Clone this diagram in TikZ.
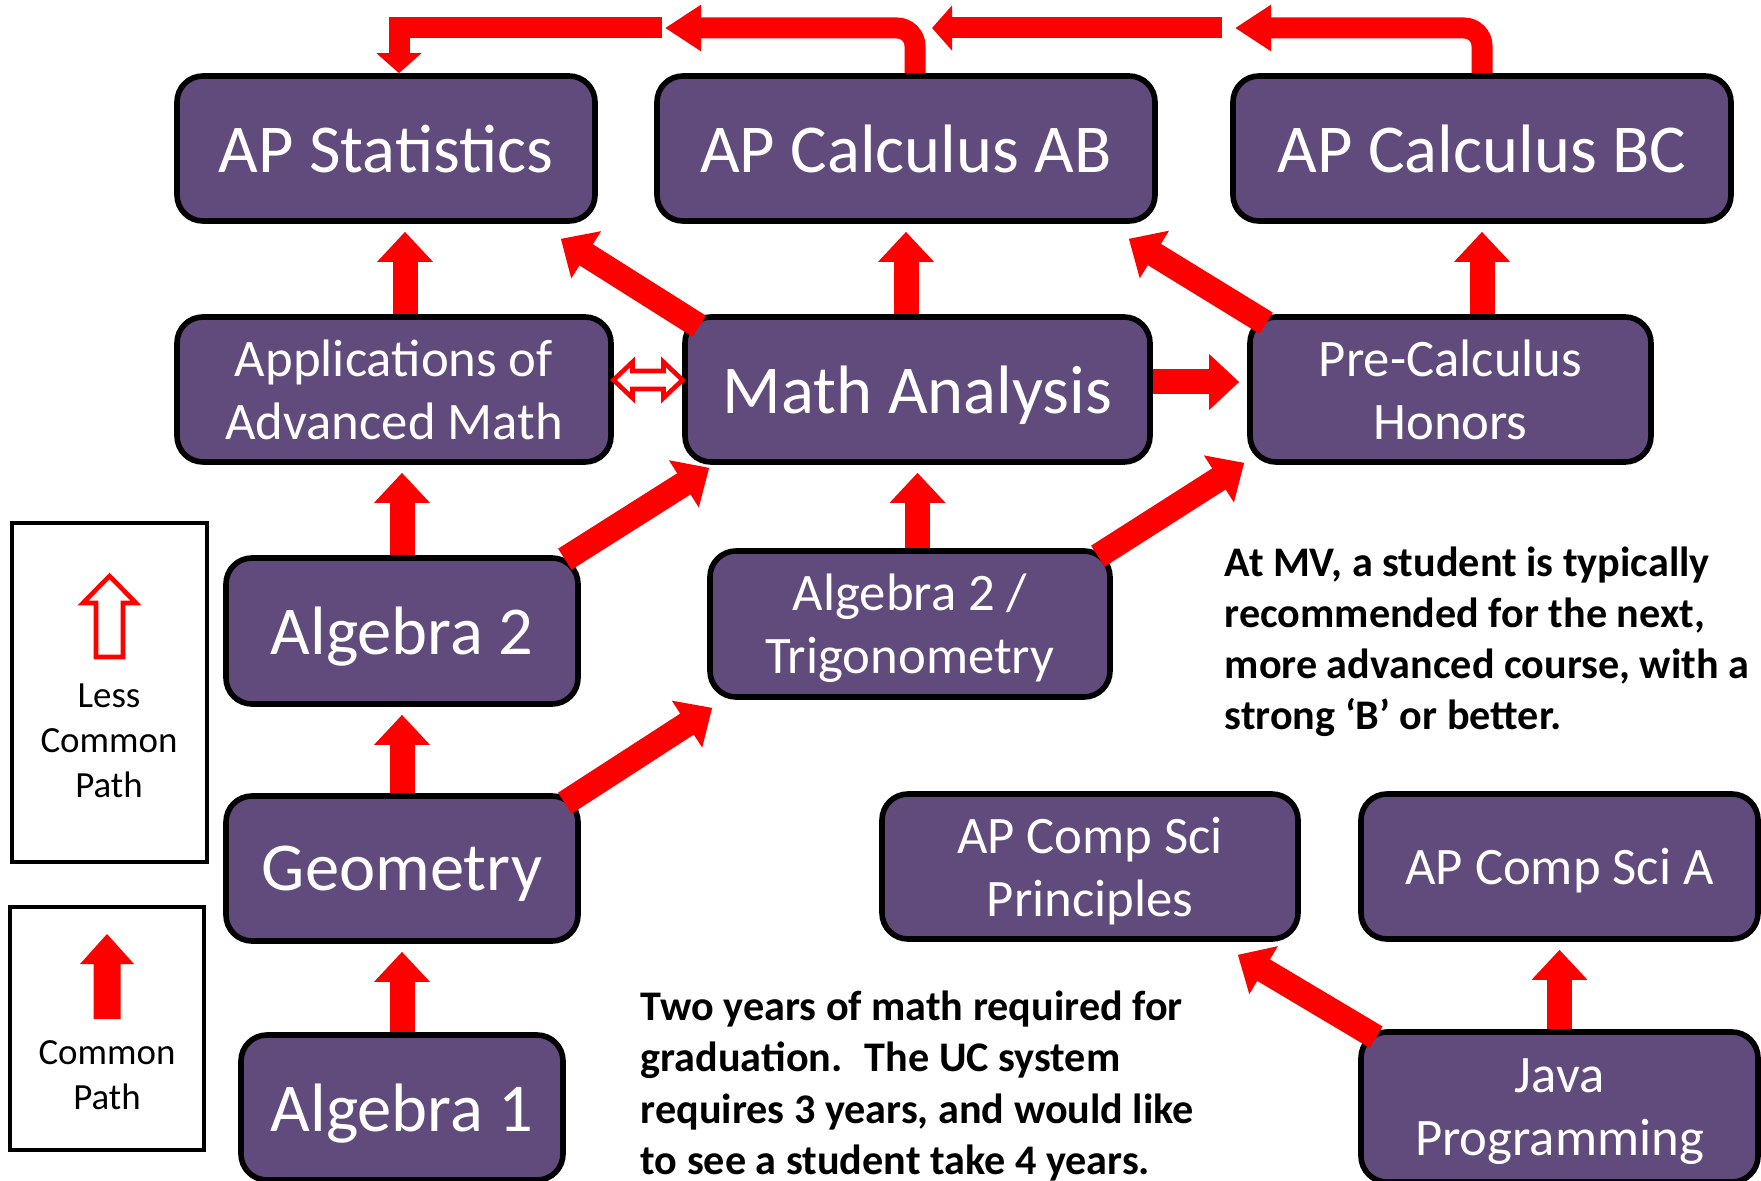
\documentclass[tikz,border=0pt]{standalone}
\usepackage{fontspec}
\setmainfont{Carlito}
\usetikzlibrary{arrows.meta,calc}
\definecolor{coursepurple}{RGB}{96,75,124}
\definecolor{flowred}{RGB}{255,0,0}
\begin{document}
\begin{tikzpicture}[
  course/.style={draw=black,line width=1.6pt,fill=coursepurple,rounded corners=0.26cm,
    text=white,align=center,inner sep=0pt,minimum height=1.45cm,text depth=0pt},
  bigtext/.style={font=\fontsize{19.5}{23}\selectfont},
  smalltext/.style={font=\fontsize{15}{17.9}\selectfont},
  flow/.style={draw=flowred,line width=0.25cm,shorten >=0.08cm,
    -{Triangle[width=0.54cm,length=0.3cm]}},
  diag/.style={flow,shorten >=0pt},
  route/.style={draw=flowred,line width=0.21cm,rounded corners=0.18cm,
    -{Triangle[width=0.44cm,length=#1]}},
  keybox/.style={draw=black,line width=1.3pt,fill=white},
  keytext/.style={font=\fontsize{10.5}{12.8}\selectfont,align=center,inner sep=0pt},
  note/.style={font=\bfseries\fontsize{12}{14.5}\selectfont,align=left,anchor=west,inner sep=0pt},
  hollow/.style={draw=flowred,line width=1.3pt,fill=white,line join=miter}
]
\useasboundingbox (0,0) rectangle (17.61,11.80);

\node[course,bigtext,minimum width=4.18cm] (stats) at (3.86,10.315) {AP Statistics};
\node[course,bigtext,minimum width=4.98cm] (calcab) at (9.06,10.315) {AP Calculus AB};
\node[course,bigtext,minimum width=4.98cm] (calcbc) at (14.82,10.315) {AP Calculus BC};
\node[course,smalltext,minimum width=4.34cm] (apps) at (3.94,7.905) {Applications of\\Advanced Math};
\node[course,bigtext,minimum width=4.65cm] (math) at (9.175,7.905) {Math Analysis};
\node[course,smalltext,minimum width=4.01cm] (precalc) at (14.505,7.905) {Pre-Calculus\\Honors};
\node[course,bigtext,minimum width=3.52cm,minimum height=1.46cm] (alg2) at (4.02,5.49) {Algebra 2};
\node[course,smalltext,minimum width=4.00cm,minimum height=1.46cm] (trig) at (9.10,5.56) {Algebra 2 /\\Trigonometry};
\node[course,bigtext,minimum width=3.52cm] (geom) at (4.02,3.115) {Geometry};
\node[course,bigtext,minimum width=3.22cm] (alg1) at (4.02,0.725) {Algebra 1};
\node[course,smalltext,minimum width=4.16cm] (cspr) at (10.90,3.135) {AP Comp Sci\\Principles};
\node[course,smalltext,minimum width=3.97cm] (csa) at (15.595,3.135) {AP Comp Sci A};
\node[course,smalltext,minimum width=3.97cm,minimum height=1.50cm] (java) at (15.595,0.73) {Java\\Programming};

\coordinate (bcjoin) at (12.35,11.52);
\coordinate (midstart) at (12.22,11.52);
\coordinate (midend) at (9.32,11.52);
\coordinate (abjoin) at (6.65,11.52);
\coordinate (statsturn) at (6.62,11.52);
\draw[route=0.36cm] (calcbc.north) |- (bcjoin);
\draw[route=0.2cm] (midstart) -- (midend);
\draw[route=0.36cm] ([xshift=0.09cm]calcab.north) |- (abjoin);
\draw[route=0.2cm,rounded corners=0pt] (statsturn) -| ([xshift=0.13cm]stats.north);

\coordinate (appsup) at ([xshift=0.11cm]apps.north);
\draw[flow] (appsup) -- (appsup |- stats.south);
\draw[flow] (alg2.north) -- (alg2.north |- apps.south);
\draw[flow] (geom.north) -- (geom.north |- alg2.south);
\draw[flow] (alg1.north) -- (alg1.north |- geom.south);
\draw[flow] (calcab.south |- math.north) -- (calcab.south);
\draw[flow] (math.south |- trig.north) -- (math.south);
\draw[flow] (calcbc.south |- precalc.north) -- (calcbc.south);
\draw[flow] (java.north) -- (csa.south);
\draw[flow] ([yshift=0.075cm]math.east) -- ([yshift=0.075cm]precalc.west);

\draw[diag] ([shift={(0.17,-0.12)}]math.north west) -- ([shift={(-0.37,-0.15)}]stats.south east);
\draw[diag] ([shift={(0.19,-0.09)}]precalc.north west) -- ([shift={(-0.29,-0.15)}]calcab.south east);
\draw[diag] ([shift={(-0.16,-0.04)}]alg2.north east) -- ([shift={(0.27,-0.03)}]math.south west);
\draw[diag] ([shift={(-0.16,-0.10)}]geom.north east) -- ([shift={(0.05,-0.08)}]trig.south west);
\draw[diag] ([shift={(-0.15,-0.08)}]trig.north east) -- ([shift={(-0.03,0.02)}]precalc.south west);
\draw[diag] ([shift={(0.18,-0.08)}]java.north west) -- ([shift={(-0.63,-0.13)}]cspr.south east);

\coordinate (eqmid) at ($(apps.east)!0.5!(math.west)+(0,0.095)$);
\draw[hollow,shift={(eqmid)}] (-0.345,0) -- (-0.155,0.18) -- (-0.155,0.09) -- (0.155,0.09)
  -- (0.155,0.18) -- (0.345,0) -- (0.155,-0.18) -- (0.155,-0.09) -- (-0.155,-0.09)
  -- (-0.155,-0.18) -- cycle;

\node[keybox,minimum width=1.95cm,minimum height=3.39cm] (lesskey) at (1.095,4.875) {};
\node[keytext] (lesslabel) at (1.09,4.39) {Less\\Common\\Path};
\draw[hollow] (1.095,6.04) -- ++(0.265,-0.27) -- ++(-0.13,0) -- ++(0,-0.54) -- ++(-0.27,0)
  -- ++(0,0.54) -- ++(-0.13,0) -- cycle;
\node[keybox,minimum width=1.94cm,minimum height=2.43cm] (commonkey) at (1.07,1.515) {};
\node[keytext] (commonlabel) at (1.07,1.05) {Common\\Path};
\fill[flowred] (1.07,2.46) -- ++(0.27,-0.30) -- ++(-0.135,0) -- ++(0,-0.55) -- ++(-0.27,0)
  -- ++(0,0.55) -- ++(-0.135,0) -- cycle;

\node[note] (mvnote) at (12.24,5.385) {At MV, a student is typically\\recommended for the next,\\more advanced course, with a\\strong ‘B’ or better.};
\node[note,font=\bfseries\fontsize{12}{14.6}\selectfont] (gradnote) at (6.40,0.94) {Two years of math required for\\graduation.~ The UC system\\requires 3 years, and would like\\to see a student take 4 years.};
\end{tikzpicture}
\end{document}
